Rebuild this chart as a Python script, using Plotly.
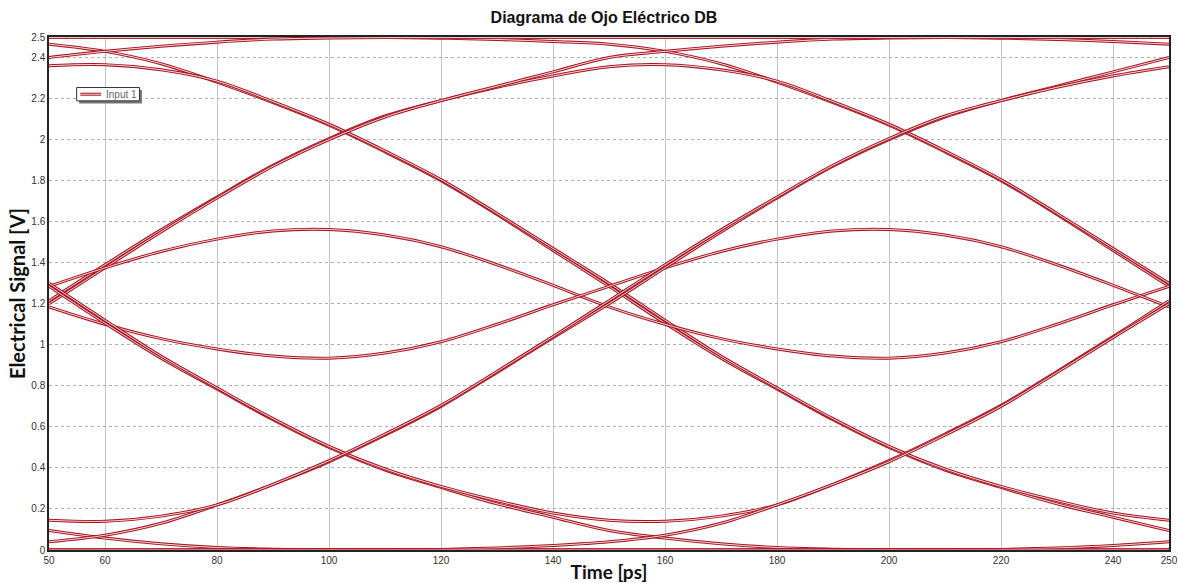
import plotly.graph_objects as go

# Time samples (ps) for the two unit intervals shown in the eye window
t_ui1 = [50, 60, 70, 80, 90, 100, 110, 120, 130, 140, 150]
t_ui2 = [150, 160, 170, 180, 190, 200, 210, 220, 230, 240, 250]

# Waveform segments over one unit interval (V), sampled at the times above
seg_high = [2.497, 2.497, 2.497, 2.497, 2.497, 2.497, 2.497, 2.497, 2.497, 2.497, 2.497]
seg_pre_fall = [2.497, 2.497, 2.497, 2.497, 2.497, 2.497, 2.497, 2.494, 2.488, 2.478, 2.465]
seg_fall_top = [2.465, 2.43, 2.37, 2.28, 2.18, 2.07, 1.94, 1.80, 1.635, 1.46, 1.285]
seg_arc_top_down = [2.36, 2.365, 2.34, 2.285, 2.185, 2.075, 1.945, 1.805, 1.64, 1.47, 1.30]
seg_rise_top_a = [1.20, 1.375, 1.55, 1.715, 1.87, 2.00, 2.11, 2.19, 2.26, 2.33, 2.40]
seg_rise_top_b = [1.215, 1.39, 1.56, 1.72, 1.875, 2.005, 2.115, 2.19, 2.255, 2.31, 2.355]
seg_rise_end = [2.40, 2.43, 2.455, 2.475, 2.49, 2.495, 2.497, 2.497, 2.497, 2.497, 2.497]
seg_mid_up = [1.285, 1.375, 1.455, 1.515, 1.555, 1.562, 1.535, 1.478, 1.39, 1.29, 1.185]
seg_mid_down = [1.185, 1.10, 1.03, 0.98, 0.945, 0.935, 0.96, 1.015, 1.10, 1.195, 1.285]
seg_fall_bot_a = [1.285, 1.105, 0.935, 0.785, 0.635, 0.50, 0.39, 0.305, 0.225, 0.16, 0.095]
seg_fall_bot_b = [1.30, 1.12, 0.945, 0.79, 0.64, 0.505, 0.395, 0.31, 0.24, 0.18, 0.145]
seg_fall_end = [0.095, 0.058, 0.03, 0.012, 0.004, 0.0, 0.0, 0.0, 0.0, 0.0, 0.0]
seg_rise_bot = [0.04, 0.072, 0.13, 0.22, 0.32, 0.43, 0.56, 0.70, 0.865, 1.035, 1.20]
seg_arc_bot_up = [0.145, 0.14, 0.165, 0.22, 0.32, 0.435, 0.565, 0.705, 0.87, 1.04, 1.215]
seg_low = [0.0, 0.0, 0.0, 0.0, 0.0, 0.0, 0.0, 0.0, 0.0, 0.0, 0.0]
seg_pre_rise = [0.0, 0.0, 0.0, 0.0, 0.0, 0.0, 0.0, 0.003, 0.01, 0.022, 0.04]

# Sweeps across the 200 ps window: (first interval, second interval)
sweeps = [
    (seg_high, seg_high),
    (seg_high, seg_pre_fall),
    (seg_pre_fall, seg_fall_top),
    (seg_fall_top, seg_fall_bot_a),
    (seg_arc_top_down, seg_fall_bot_b),
    (seg_rise_top_b, seg_arc_top_down),
    (seg_rise_top_a, seg_rise_end),
    (seg_rise_end, seg_high),
    (seg_mid_up, seg_mid_down),
    (seg_mid_down, seg_mid_up),
    (seg_fall_bot_a, seg_fall_end),
    (seg_fall_bot_b, seg_arc_bot_up),
    (seg_fall_end, seg_low),
    (seg_low, seg_pre_rise),
    (seg_pre_rise, seg_rise_bot),
    (seg_rise_bot, seg_rise_top_a),
    (seg_arc_bot_up, seg_rise_top_b),
    (seg_low, seg_low),
]

x_ticks = [50, 60, 80, 100, 120, 140, 160, 180, 200, 220, 240, 250]
y_ticks = [0, 0.2, 0.4, 0.6, 0.8, 1, 1.2, 1.4, 1.6, 1.8, 2, 2.2, 2.4, 2.5]

TRACE_RED = "#a81420"
TRACE_CORE = "#f4d8d8"

fig = go.Figure()
for first, second in sweeps:
    xs = t_ui1 + t_ui2[1:]
    ys = first + second[1:]
    fig.add_trace(go.Scatter(
        x=xs, y=ys, mode="lines",
        line=dict(color=TRACE_RED, width=3.0, shape="spline", smoothing=1.0),
        showlegend=False, hoverinfo="skip",
    ))
    fig.add_trace(go.Scatter(
        x=xs, y=ys, mode="lines",
        line=dict(color=TRACE_CORE, width=1.0, shape="spline", smoothing=1.0),
        showlegend=False, hoverinfo="skip",
    ))

# Compact legend box with drop shadow ("Input 1")
lg_x0, lg_x1 = 0.0247, 0.0808
lg_y0, lg_y1 = 0.8755, 0.9015
shapes = [
    dict(type="rect", xref="paper", yref="paper",
         x0=lg_x0 + 0.0022, x1=lg_x1 + 0.0022, y0=lg_y0 - 0.005, y1=lg_y1 - 0.005,
         line=dict(width=0), fillcolor="#777777", layer="above"),
    dict(type="rect", xref="paper", yref="paper",
         x0=lg_x0, x1=lg_x1, y0=lg_y0, y1=lg_y1,
         line=dict(color="#333333", width=1), fillcolor="white", layer="above"),
    dict(type="line", xref="paper", yref="paper",
         x0=0.0280, x1=0.0465, y0=0.8885, y1=0.8885,
         line=dict(color=TRACE_RED, width=3), layer="above"),
    dict(type="line", xref="paper", yref="paper",
         x0=0.0280, x1=0.0465, y0=0.8885, y1=0.8885,
         line=dict(color=TRACE_CORE, width=1), layer="above"),
]
annotations = [
    dict(text="Input 1", xref="paper", yref="paper", x=0.0490, y=0.8885,
         xanchor="left", yanchor="middle", showarrow=False,
         font=dict(family="Liberation Sans, Arial, sans-serif", size=10, color="#666666")),
]

tick_font = dict(family="Liberation Sans, Arial, sans-serif", size=10, color="#333333")

fig.update_layout(
    width=1178, height=583,
    margin=dict(l=49, r=9, t=37, b=33),
    paper_bgcolor="white", plot_bgcolor="white",
    title=dict(
        text="<b>Diagrama de Ojo Eléctrico DB</b>",
        font=dict(family="Liberation Sans, Arial, sans-serif", size=16, color="#111111"),
        x=0.4955, xref="paper", xanchor="center",
        y=0.971, yref="container", yanchor="middle",
    ),
    showlegend=False,
    shapes=shapes,
    annotations=annotations,
    xaxis=dict(
        range=[50, 250], tickvals=x_ticks, ticktext=[str(v) for v in x_ticks],
        showgrid=True, gridcolor="#c4c4c4", gridwidth=1, griddash="solid",
        zeroline=False, showline=True, linecolor="#222222", linewidth=1.5, mirror=True,
        ticks="", tickfont=tick_font, automargin=False,
        title=dict(text="<b>Time [ps]</b>",
                   font=dict(family="Lato, sans-serif", size=19, color="#111111"),
                   standoff=2),
    ),
    yaxis=dict(
        range=[0, 2.5], tickvals=y_ticks, ticktext=[f"{v:g}" for v in y_ticks],
        showgrid=True, gridcolor="#b0b0b0", gridwidth=1, griddash="dot",
        zeroline=False, showline=True, linecolor="#222222", linewidth=1.5, mirror=True,
        ticks="", tickfont=tick_font, automargin=False,
        title=dict(text="<b>Electrical Signal [V]</b>",
                   font=dict(family="Lato, sans-serif", size=20, color="#111111"),
                   standoff=0),
    ),
)

fig.write_html("out.html")
